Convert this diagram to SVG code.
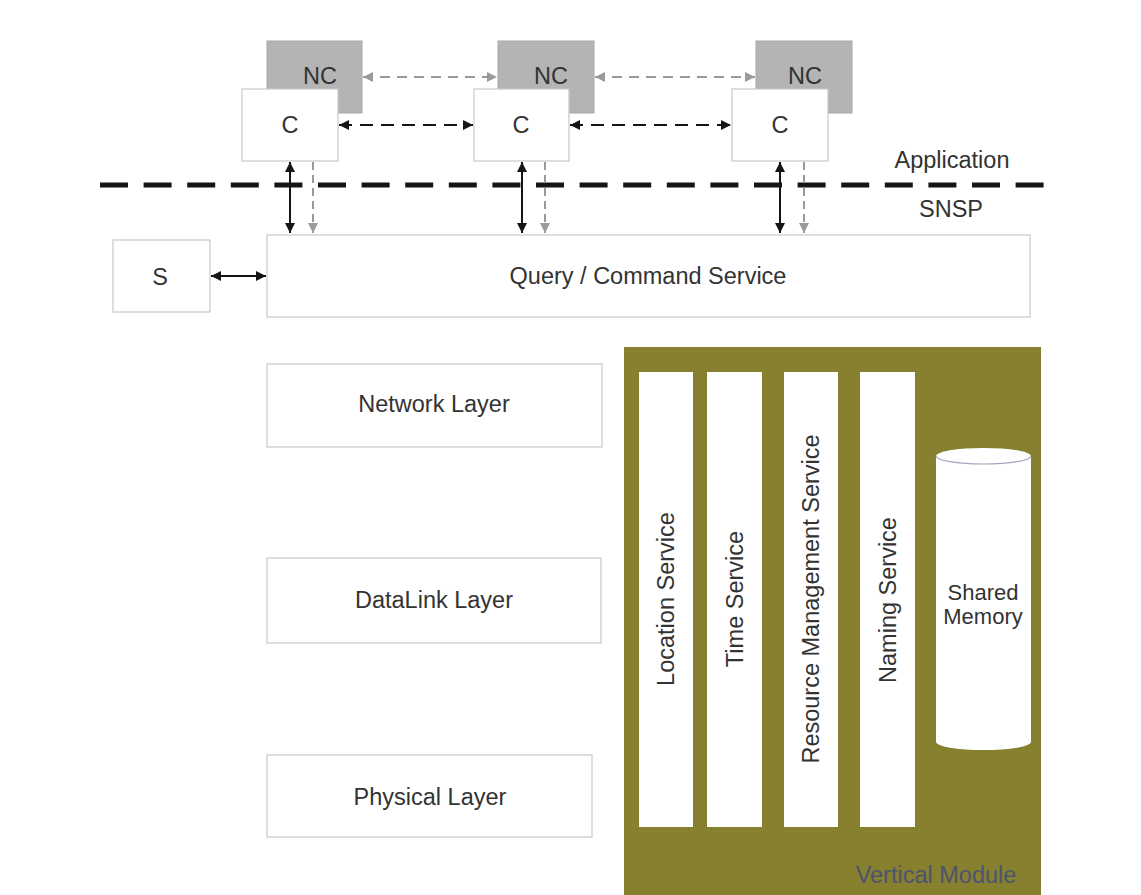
<svg xmlns="http://www.w3.org/2000/svg" width="1141" height="895" viewBox="0 0 1141 895">
  <style>
    text { font-family: "Liberation Sans", Arial, sans-serif; font-size: 23.5px; fill: #333333; text-anchor: middle; dominant-baseline: central; }
    .box { fill: #ffffff; stroke: #c8c8c8; stroke-width: 1.2; }
    .nc { fill: #b4b4b4; stroke: #a8a8a8; stroke-width: 1; }
    .col { fill: #ffffff; }
    .blk { stroke: #151515; stroke-width: 2; fill: none; }
    .gry { stroke: #9a9a9a; stroke-width: 2; fill: none; }
  </style>
  <defs>
    <marker id="ab" viewBox="0 0 10 10" refX="10" refY="5" markerWidth="13" markerHeight="10" markerUnits="userSpaceOnUse" orient="auto-start-reverse">
      <path d="M0,0 L10,5 L0,10 z" fill="#151515"/>
    </marker>
    <marker id="ag" viewBox="0 0 10 10" refX="10" refY="5" markerWidth="13" markerHeight="10" markerUnits="userSpaceOnUse" orient="auto-start-reverse">
      <path d="M0,0 L10,5 L0,10 z" fill="#9a9a9a"/>
    </marker>
  </defs>
  <rect width="1141" height="895" fill="#ffffff"/>

  <g id="nc1"><rect class="nc" x="267" y="41" width="95" height="72"/><text x="320" y="76">NC</text></g>
  <g id="nc2"><rect class="nc" x="498" y="41" width="96" height="72"/><text x="551" y="76">NC</text></g>
  <g id="nc3"><rect class="nc" x="756" y="41" width="96" height="72"/><text x="805" y="76">NC</text></g>

  <g id="c1"><rect class="box" x="242" y="89" width="96" height="72"/><text x="290" y="125">C</text></g>
  <g id="c2"><rect class="box" x="474" y="89" width="95" height="72"/><text x="521" y="125">C</text></g>
  <g id="c3"><rect class="box" x="732" y="89" width="96" height="72"/><text x="780" y="125">C</text></g>

  <g id="boundary">
    <line x1="100" y1="185" x2="1050" y2="185" stroke="#151515" stroke-width="5" stroke-dasharray="28 15.6"/>
    <text x="952" y="160">Application</text>
    <text x="951" y="209">SNSP</text>
  </g>

  <g id="s"><rect class="box" x="113" y="240" width="97" height="72"/><text x="160" y="277">S</text></g>
  <g id="query"><rect class="box" x="267" y="235" width="763" height="82"/><text x="648" y="276">Query / Command Service</text></g>

  <g id="network"><rect class="box" x="267" y="364" width="335" height="83"/><text x="434" y="404">Network Layer</text></g>
  <g id="datalink"><rect class="box" x="267" y="558" width="334" height="85"/><text x="434" y="600">DataLink Layer</text></g>
  <g id="physical"><rect class="box" x="267" y="755" width="325" height="82"/><text x="430" y="797">Physical Layer</text></g>

  <g id="vertical-module">
    <rect x="624" y="347" width="417" height="548" fill="#86802f"/>
    <text x="936" y="875" style="fill:#4d5470">Vertical Module</text>
  </g>
  <g id="location"><rect class="col" x="639" y="372" width="54" height="455"/><text transform="translate(666,599) rotate(-90)">Location Service</text></g>
  <g id="time"><rect class="col" x="707" y="372" width="55" height="455"/><text transform="translate(735,599) rotate(-90)">Time Service</text></g>
  <g id="resource"><rect class="col" x="784" y="372" width="54" height="455"/><text transform="translate(811,599) rotate(-90)">Resource Management Service</text></g>
  <g id="naming"><rect class="col" x="860" y="372" width="55" height="455"/><text transform="translate(888,600) rotate(-90)">Naming Service</text></g>
  <g id="shared-memory">
    <path d="M936,456 L936,742 A47.5,8 0 0 0 1031,742 L1031,456 A47.5,8 0 0 0 936,456 z" fill="#ffffff"/>
    <path d="M936,456 A47.5,8 0 0 0 1031,456" fill="none" stroke="#a0a6bc" stroke-width="1.2"/>
    <text x="983" y="592" style="font-size:22px">Shared</text>
    <text x="983" y="616" style="font-size:22px">Memory</text>
  </g>

  <g id="connectors">
    <line class="gry" x1="363" y1="77" x2="497" y2="77" stroke-dasharray="10 7" marker-start="url(#ag)" marker-end="url(#ag)"/>
    <line class="gry" x1="595" y1="77" x2="755" y2="77" stroke-dasharray="10 7" marker-start="url(#ag)" marker-end="url(#ag)"/>
    <line class="blk" x1="339" y1="125" x2="473" y2="125" stroke-dasharray="13 8" marker-start="url(#ab)" marker-end="url(#ab)"/>
    <line class="blk" x1="570" y1="125" x2="731" y2="125" stroke-dasharray="13 8" marker-start="url(#ab)" marker-end="url(#ab)"/>

    <line class="blk" x1="290" y1="162" x2="290" y2="233" marker-start="url(#ab)" marker-end="url(#ab)"/>
    <line class="gry" x1="313" y1="162" x2="313" y2="233" stroke-dasharray="8 5" marker-end="url(#ag)"/>
    <line class="blk" x1="522" y1="162" x2="522" y2="233" marker-start="url(#ab)" marker-end="url(#ab)"/>
    <line class="gry" x1="545" y1="162" x2="545" y2="233" stroke-dasharray="8 5" marker-end="url(#ag)"/>
    <line class="blk" x1="780" y1="162" x2="780" y2="233" marker-start="url(#ab)" marker-end="url(#ab)"/>
    <line class="gry" x1="804" y1="162" x2="804" y2="233" stroke-dasharray="8 5" marker-end="url(#ag)"/>

    <line class="blk" x1="211" y1="276" x2="266" y2="276" marker-start="url(#ab)" marker-end="url(#ab)"/>
  </g>
</svg>
